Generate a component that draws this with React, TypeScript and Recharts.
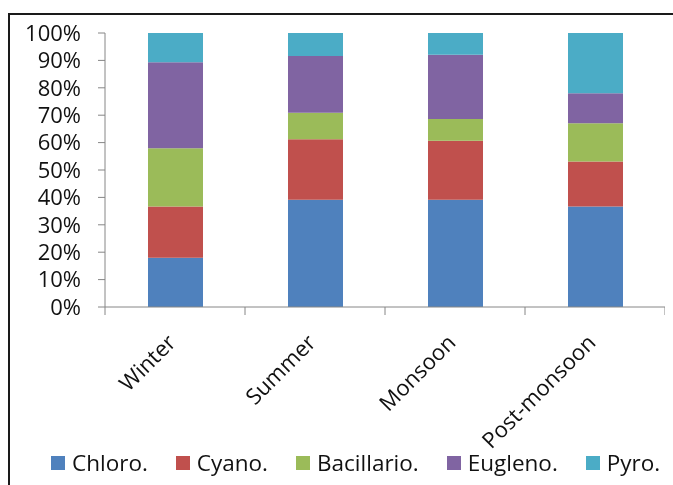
import React from 'react';
import { BarChart, Bar, XAxis, YAxis, Legend } from 'recharts';

// Seasonal share (%) of each phytoplankton group
const categories = ['Winter', 'Summer', 'Monsoon', 'Post-monsoon'];
const chloro = [18.0, 39.1, 39.1, 36.7];
const cyano = [18.7, 22.1, 21.6, 16.4];
const bacillario = [21.2, 9.7, 7.9, 14.0];
const eugleno = [31.4, 20.7, 23.5, 10.9];
const pyro = [10.7, 8.4, 7.9, 22.0];

const seriesNames = ['Chloro.', 'Cyano.', 'Bacillario.', 'Eugleno.', 'Pyro.'];
const seriesValues = [chloro, cyano, bacillario, eugleno, pyro];
const seriesColors = ['#4F81BD', '#C0504D', '#9BBB59', '#8064A2', '#4BACC6'];
const yTicks = [0, 0.1, 0.2, 0.3, 0.4, 0.5, 0.6, 0.7, 0.8, 0.9, 1];

const data = categories.map((season, i) => {
  const row: Record<string, string | number> = { season };
  seriesNames.forEach((name, s) => {
    row[name] = seriesValues[s][i];
  });
  return row;
});

const FONT = '"Open Sans", sans-serif';
const CHART_W = 665;
const CHART_H = 477;
const MARGIN = { top: 25, right: 8, bottom: 7, left: 37 };
const Y_AXIS_W = 60;
const PLOT_W = CHART_W - MARGIN.left - MARGIN.right - Y_AXIS_W;
const BAND = PLOT_W / categories.length;
const AXIS_GREY = '#868686';

const SeasonTick = (props: any) => {
  const { x, y, payload, index } = props;
  const left = x - BAND / 2;
  const right = x + BAND / 2;
  const tx = x + 2;
  const ty = y + 37;
  return (
    <g>
      <line x1={left} y1={y} x2={left} y2={y + 8} stroke={AXIS_GREY} strokeWidth={1} />
      {index === categories.length - 1 && (
        <line x1={right} y1={y} x2={right} y2={y + 8} stroke={AXIS_GREY} strokeWidth={1} />
      )}
      <text
        x={tx}
        y={ty}
        textAnchor="end"
        transform={`rotate(-45, ${tx}, ${ty})`}
        fontFamily={FONT}
        fontSize={22}
        fill="#111"
      >
        {payload.value}
      </text>
    </g>
  );
};

const LegendContent = () => (
  <div
    style={{
      display: 'flex',
      alignItems: 'center',
      height: 30,
      paddingLeft: 6,
      fontFamily: FONT,
      fontSize: 22.5,
      color: '#111',
      whiteSpace: 'nowrap',
    }}
  >
    {seriesNames.map((name, i) => (
      <div
        key={name}
        style={{
          display: 'flex',
          alignItems: 'center',
          marginRight: i === seriesNames.length - 1 ? 0 : 28,
        }}
      >
        <span
          style={{
            display: 'inline-block',
            width: 14,
            height: 14,
            background: seriesColors[i],
            marginRight: 7,
          }}
        />
        <span style={{ lineHeight: '30px' }}>{name}</span>
      </div>
    ))}
  </div>
);

export default function App() {
  return (
    <>
      <style>{'html, body { overflow: hidden; }'}</style>
      {/* chart frame, open at the right and bottom */}
      <div
        style={{
          position: 'fixed',
          left: 8,
          top: 13,
          right: -20,
          bottom: -20,
          borderTop: '2px solid #1a1a1a',
          borderLeft: '2px solid #1a1a1a',
        }}
      />
      <div style={{ position: 'relative', width: CHART_W, height: CHART_H }}>
        <BarChart
          width={CHART_W}
          height={CHART_H}
          data={data}
          margin={MARGIN}
          stackOffset="expand"
          barSize={55}
        >
          <XAxis
            dataKey="season"
            interval={0}
            tickLine={false}
            tickSize={0}
            tickMargin={0}
            height={141}
            axisLine={{ stroke: AXIS_GREY }}
            tick={<SeasonTick />}
          />
          <YAxis
            width={Y_AXIS_W}
            domain={[0, 1]}
            ticks={yTicks}
            interval={0}
            tickSize={7}
            tickMargin={17}
            tickFormatter={(v: number) => `${Math.round(v * 100)}%`}
            axisLine={{ stroke: AXIS_GREY }}
            tickLine={{ stroke: AXIS_GREY }}
            tick={{ fontFamily: FONT, fontSize: 22, fill: '#111' }}
          />
          <Legend verticalAlign="bottom" align="left" content={<LegendContent />} />
          {seriesNames.map((name, i) => (
            <Bar
              key={name}
              dataKey={name}
              stackId="share"
              fill={seriesColors[i]}
              isAnimationActive={false}
            />
          ))}
        </BarChart>
      </div>
    </>
  );
}
